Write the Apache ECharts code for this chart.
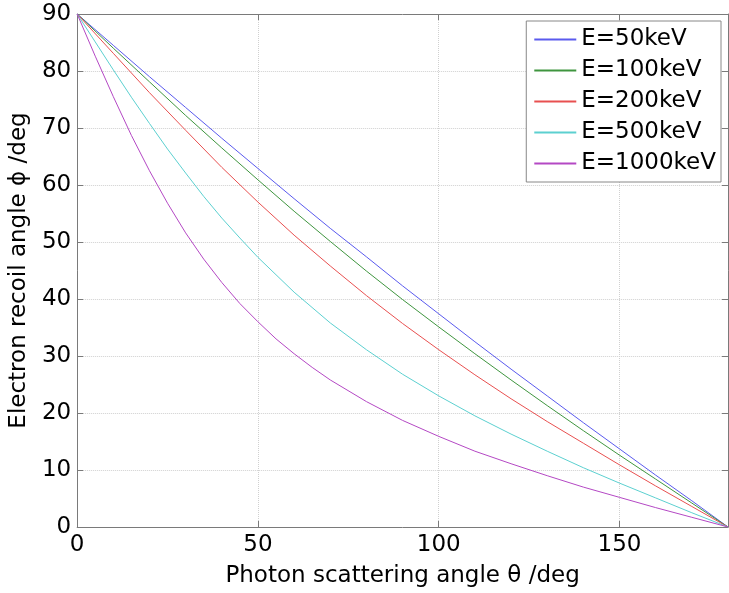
<!DOCTYPE html>
<html lang="en" style="height: 100%">
<head>
  <meta charset="utf-8">
  <script type="text/javascript" src="https://cdn.jsdelivr.net/npm/echarts@6/dist/echarts.min.js"></script>
</head>
<body style="height: 100%; margin: 0">
  <div id="main" style="height: 593px; width: 729px"></div>

  <script type="text/javascript">
    // photon scattering angle (deg)
    var theta = [0, 10, 20, 30, 40, 50, 60, 70, 80, 90, 100, 110, 120, 130, 140, 150, 160, 170, 180];
    var theta500 = [0, 5, 10, 15, 20, 25, 30, 35, 40, 45, 50, 60, 70, 80, 90, 100, 110, 120, 130, 140, 150, 160, 170, 180];
    var theta1000 = [0, 5, 10, 15, 20, 25, 30, 35, 40, 45, 50, 55, 60, 65, 70, 80, 90, 100, 110, 120, 130, 140, 150, 160, 170, 180];

    // electron recoil angle (deg)
    var e50 = [90, 84.5, 79.0, 73.6, 68.2, 62.9, 57.6, 52.4, 47.4, 42.3, 37.4, 32.5, 27.7, 23.0, 18.3, 13.7, 9.1, 4.6, 0];
    var e100 = [90, 84.0, 78.1, 72.2, 66.5, 60.9, 55.4, 50.1, 44.9, 39.9, 35.1, 30.4, 25.8, 21.3, 16.9, 12.6, 8.4, 4.2, 0];
    var e200 = [90, 83.1, 76.2, 69.6, 63.1, 57.0, 51.2, 45.8, 40.6, 35.7, 31.1, 26.7, 22.5, 18.5, 14.7, 10.9, 7.2, 3.6, 0];
    var e500 = [90, 85.1, 80.2, 75.4, 70.8, 66.3, 62.1, 58.0, 54.2, 50.7, 47.3, 41.2, 35.8, 31.1, 26.8, 23.0, 19.5, 16.3, 13.3, 10.4, 7.7, 5.1, 2.5, 0];
    var e1000 = [90, 82.6, 75.5, 68.7, 62.5, 56.8, 51.6, 47.0, 42.9, 39.2, 36.0, 33.0, 30.4, 28.0, 25.8, 22.0, 18.7, 15.9, 13.3, 11.1, 9.0, 7.0, 5.2, 3.4, 1.7, 0];

    var names = ['E=50keV', 'E=100keV', 'E=200keV', 'E=500keV', 'E=1000keV'];
    var colors = ['#5a5aee', '#3f953f', '#e85050', '#5cd0d0', '#b448c4'];

    function pairs(xs, ys) {
      var out = [];
      for (var i = 0; i < xs.length; i++) {
        out.push([xs[i], ys[i]]);
      }
      return out;
    }

    var curves = [
      pairs(theta, e50),
      pairs(theta, e100),
      pairs(theta, e200),
      pairs(theta500, e500),
      pairs(theta1000, e1000)
    ];

    var font = 'DejaVu Sans';
    var axisGrey = '#7a7a7a';

    var series = [];
    for (var i = 0; i < names.length; i++) {
      series.push({
        name: names[i],
        type: 'line',
        data: curves[i],
        symbol: 'none',
        lineStyle: { width: 1, color: colors[i] },
        itemStyle: { color: colors[i] }
      });
    }

    var chart = echarts.init(document.getElementById('main'));

    var option = {
      animation: false,
      textStyle: { fontFamily: font },
      grid: { left: 75, right: 1, top: 14, bottom: 64, containLabel: false },
      legend: {
        orient: 'vertical',
        right: 8,
        top: 21,
        padding: [7, 5, 7, 8],
        itemGap: 8,
        itemWidth: 42,
        itemHeight: 2,
        icon: 'rect',
        backgroundColor: '#fff',
        borderColor: '#888',
        borderWidth: 1,
        textStyle: { fontSize: 23, color: '#000', lineHeight: 23, fontFamily: font },
        data: names
      },
      xAxis: [{
        type: 'value',
        min: 0,
        max: 180,
        interval: 50,
        name: 'Photon scattering angle θ /deg',
        nameLocation: 'middle',
        nameGap: 38,
        nameTextStyle: { fontSize: 23, color: '#000', fontFamily: font },
        axisLine: { lineStyle: { color: axisGrey } },
        axisTick: { inside: true, length: 6, lineStyle: { color: axisGrey } },
        axisLabel: { fontSize: 23, color: '#000', margin: 7, showMaxLabel: false, fontFamily: font },
        splitLine: { show: true, lineStyle: { color: '#d0d0d0', type: 'dotted' } }
      }, {
        type: 'value',
        position: 'top',
        min: 0,
        max: 180,
        interval: 50,
        axisLine: { show: true, onZero: false, lineStyle: { color: axisGrey } },
        axisTick: { inside: true, length: 6, lineStyle: { color: axisGrey } },
        axisLabel: { show: false },
        splitLine: { show: false }
      }],
      yAxis: [{
        type: 'value',
        min: 0,
        max: 90,
        interval: 10,
        name: 'Electron recoil angle ϕ /deg',
        nameLocation: 'middle',
        nameGap: 44,
        nameTextStyle: { fontSize: 23, color: '#000', fontFamily: font },
        axisLine: { show: true, lineStyle: { color: axisGrey } },
        axisTick: { show: true, inside: true, length: 6, lineStyle: { color: axisGrey } },
        axisLabel: { fontSize: 23, color: '#000', margin: 6, fontFamily: font },
        splitLine: { show: true, lineStyle: { color: '#d0d0d0', type: 'dotted' } }
      }, {
        type: 'value',
        position: 'right',
        min: 0,
        max: 90,
        interval: 10,
        axisLine: { show: true, onZero: false, lineStyle: { color: axisGrey } },
        axisTick: { show: true, inside: true, length: 6, lineStyle: { color: axisGrey } },
        axisLabel: { show: false },
        splitLine: { show: false }
      }],
      series: series
    };

    chart.setOption(option);
  </script>
</body>
</html>
